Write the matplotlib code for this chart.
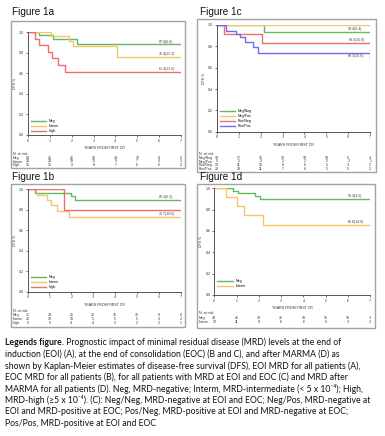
import matplotlib
matplotlib.use('Agg')
import matplotlib.pyplot as plt
from matplotlib.patches import Rectangle
from matplotlib.transforms import blended_transform_factory

plt.rcParams['font.family'] = ['Liberation Sans', 'DejaVu Sans']

W, H = 385, 436
fig = plt.figure(figsize=(W / 100, H / 100), dpi=100)
fig.patch.set_facecolor('white')

GREEN = '#63b863'
ORANGE = '#f8c56a'
RED = '#f26c6c'
BLUE = '#6c6cf0'

years = [0, 1, 2, 3, 4, 5, 6, 7]
yticks = [0.0, 0.2, 0.4, 0.6, 0.8, 1.0]

# ---------------- Figure 1a (EOI MRD) ----------------
a_names = ['Neg', 'Interm', 'High']
a_neg_t = [0, 0.52, 1.13, 2.23, 7]
a_neg_s = [1.0, 0.97, 0.93, 0.88, 0.88]
a_int_t = [0, 1.05, 1.89, 2.07, 4.06, 7]
a_int_s = [1.0, 0.96, 0.915, 0.86, 0.76, 0.76]
a_high_t = [0, 0.30, 0.52, 0.93, 1.08, 1.39, 1.69, 7]
a_high_s = [1.0, 0.93, 0.877, 0.81, 0.745, 0.68, 0.61, 0.61]
a_labels = ['87.8(6.6)', '76.4(11.3)', '61.4(12.6)']
a_risk_neg = [28, 26, 25, 16, 14, 12, 8, 5]
a_risk_int = [24, 24, 19, 13, 9, 7, 4, 3]
a_risk_high = [15, 13, 9, 8, 7, 6, 6, 2]

# ---------------- Figure 1b (EOC MRD) ----------------
b_names = ['Neg', 'Interm', 'High']
b_neg_t = [0, 0.35, 2.0, 2.17, 7]
b_neg_s = [1.0, 0.967, 0.93, 0.893, 0.893]
b_int_t = [0, 0.37, 0.45, 0.91, 1.06, 1.36, 1.87, 7]
b_int_s = [1.0, 0.974, 0.947, 0.895, 0.847, 0.788, 0.727, 0.727]
b_high_t = [0, 1.68, 7]
b_high_s = [1.0, 0.80, 0.80]
b_labels = ['89.3(6.5)', '72.7(10.6)', None]
b_risk_neg = [31, 29, 25, 20, 16, 15, 8, 6]
b_risk_int = [20, 19, 10, 5, 5, 5, 3, 2]
b_risk_high = [5, 5, 4, 4, 3, 2, 2, 1]

# ---------------- Figure 1c (EOI / EOC) ----------------
c_names = ['Neg/Neg', 'Neg/Pos', 'Pos/Neg', 'Pos/Pos']
c_nn_t = [0, 2.16, 7]
c_nn_s = [1.0, 0.935, 0.935]
c_np_t = [0, 7]
c_np_s = [1.0, 1.0]
c_pn_t = [0, 0.35, 2.08, 7]
c_pn_s = [1.0, 0.912, 0.83, 0.83]
c_pp_t = [0, 0.41, 0.88, 1.06, 1.29, 1.64, 1.90, 7]
c_pp_s = [1.0, 0.947, 0.92, 0.89, 0.84, 0.79, 0.74, 0.68]
c_labels = ['94.4(5.4)', None, '83.3(10.8)', '68.3(10.6)']
c_risk_nn = [18, 17, 15, 12, 10, 10, 6, 4]
c_risk_np = [5, 5, 3, 2, 2, 2, 2, 1]
c_risk_pn = [12, 11, 10, 8, 6, 5, 3, 2]
c_risk_pp = [20, 18, 11, 7, 6, 5, 5, 2]

# ---------------- Figure 1d (after MARMA) ----------------
d_names = ['Neg', 'Interm']
d_neg_t = [0, 0.82, 1.05, 1.83, 2.05, 7]
d_neg_s = [1.0, 0.978, 0.953, 0.93, 0.90, 0.90]
d_int_t = [0, 0.51, 1.0, 1.35, 2.17, 7]
d_int_s = [1.0, 0.917, 0.833, 0.75, 0.656, 0.656]
d_labels = ['90.4(4.5)', '65.6(14.0)']
d_risk_neg = [44, 41, 33, 26, 19, 15, 10, 3]
d_risk_int = [12, 11, 8, 6, 6, 5, 3, 3]

SMALL = 2.6

series_risk = {
    'Figure 1a': list(zip(a_names, [a_risk_neg, a_risk_int, a_risk_high])),
    'Figure 1b': list(zip(b_names, [b_risk_neg, b_risk_int, b_risk_high])),
    'Figure 1c': list(zip(c_names, [c_risk_nn, c_risk_np, c_risk_pn, c_risk_pp])),
    'Figure 1d': list(zip(d_names, [d_risk_neg, d_risk_int])),
}


def fx(x):
    return x / W


def fy(y):
    return 1 - y / H


def panel(title, title_xy, box, axpx, series, risk_y, risk_label_x, legend_y0):
    bx0, by0, bx1, by1 = box
    fig.add_artist(Rectangle((fx(bx0), fy(by1)), (bx1 - bx0) / W, (by1 - by0) / H,
                             transform=fig.transFigure, fill=False,
                             ec='#a3a3a3', lw=1.0))
    fig.text(fx(title_xy[0]), fy(title_xy[1]), title, fontsize=7.2,
             ha='left', va='center', color='#111111')
    x0, x1, yt, yb = axpx
    ax = fig.add_axes([fx(x0), fy(yb), (x1 - x0) / W, (yb - yt) / H])
    ax.set_facecolor('none')
    for name, t, s, col, lab in series:
        ax.step(t, s, where='post', color=col, lw=1.0, label=name)
        if lab:
            ax.text(6.0, s[-1] + 0.008, lab, fontsize=SMALL, color='#444444',
                    ha='left', va='bottom')
    ax.set_xlim(0, 7)
    ax.set_ylim(0, 1)
    ax.set_xticks(years)
    ax.set_xticklabels([str(v) for v in years])
    ax.set_yticks(yticks)
    ax.set_yticklabels(['%.1f' % v for v in yticks])
    ax.tick_params(labelsize=SMALL, length=1.5, width=0.5, pad=1.2,
                   colors='#333333')
    for sp in ['top', 'right']:
        ax.spines[sp].set_visible(False)
    for sp in ['left', 'bottom']:
        ax.spines[sp].set_color('#555555')
        ax.spines[sp].set_linewidth(0.7)
    h = yb - yt

    def ay(ypix):
        return (yb - ypix) / h

    tr = blended_transform_factory(ax.transData, ax.transAxes)
    ax.text(3.5, ay(yb + 13), 'YEARS FROM FIRST CR', fontsize=SMALL,
            ha='center', va='center', color='#333333', transform=tr)
    ax.text(fx(x0 - 13), 0.5, 'DFS %', rotation=90, fontsize=SMALL,
            ha='center', va='center', color='#333333',
            transform=blended_transform_factory(fig.transFigure, ax.transAxes))
    ax.legend(loc='lower left', bbox_to_anchor=(0.02, (yb - legend_y0) / h),
              fontsize=SMALL, frameon=False, handlelength=4.2,
              handletextpad=0.8, labelspacing=0.25, borderpad=0.0,
              borderaxespad=0.0)
    fig.text(fx(risk_label_x), fy(risk_y[0]), 'N. at risk', fontsize=SMALL,
             ha='left', va='center', color='#333333')
    for (name, counts), yy in zip(series_risk[title], risk_y[1:]):
        fig.text(fx(risk_label_x), fy(yy), name, fontsize=SMALL,
                 ha='left', va='center', color='#333333')
        for xv, c in zip(years, counts):
            ax.text(xv, ay(yy), str(c), fontsize=SMALL, ha='center',
                    va='center', transform=tr, color='#333333')
    return ax


panel('Figure 1a', (12, 12), (11, 21, 185, 168), (28, 181, 32, 135),
      [('Neg', a_neg_t, a_neg_s, GREEN, a_labels[0]),
       ('Interm', a_int_t, a_int_s, ORANGE, a_labels[1]),
       ('High', a_high_t, a_high_s, RED, a_labels[2])],
      [153.5, 157.8, 161.5, 165.2], 13, 133)

panel('Figure 1b', (12, 177), (11, 184, 185, 327), (27.5, 181, 189.3, 291.7),
      [('Neg', b_neg_t, b_neg_s, GREEN, b_labels[0]),
       ('Interm', b_int_t, b_int_s, ORANGE, b_labels[1]),
       ('High', b_high_t, b_high_s, RED, b_labels[2])],
      [310.7, 315, 319.2, 323.2], 13, 289)

panel('Figure 1c', (200, 12), (197, 19, 376, 172), (216.7, 370.3, 25, 131.7),
      [('Neg/Neg', c_nn_t, c_nn_s, GREEN, c_labels[0]),
       ('Neg/Pos', c_np_t, c_np_s, ORANGE, c_labels[1]),
       ('Pos/Neg', c_pn_t, c_pn_s, RED, c_labels[2]),
       ('Pos/Pos', c_pp_t, c_pp_s, BLUE, c_labels[3])],
      [153.8, 157.8, 161.5, 165.2, 168.8], 199, 128)

panel('Figure 1d', (200, 177), (197, 184, 375, 328), (214.3, 370.3, 188.3, 295),
      [('Neg', d_neg_t, d_neg_s, GREEN, d_labels[0]),
       ('Interm', d_int_t, d_int_s, ORANGE, d_labels[1])],
      [313.3, 317.7, 321.7], 199, 288)

# ---------------- caption ----------------
cap_lines = [
    ". Prognostic impact of minimal residual disease (MRD) levels at the end of",
    "induction (EOI) (A), at the end of consolidation (EOC) (B and C), and after MARMA (D) as",
    "shown by Kaplan-Meier estimates of disease-free survival (DFS), EOI MRD for all patients (A),",
    "EOC MRD for all patients (B), for all patients with MRD at EOI and EOC (C) and MRD after",
    "MARMA for all patients (D). Neg, MRD-negative; Interm, MRD-intermediate (< 5 x 10\u207b\u2074); High,",
    "MRD-high (\u22655 x 10\u207b\u2074). (C): Neg/Neg, MRD-negative at EOI and EOC; Neg/Pos, MRD-negative at",
    "EOI and MRD-positive at EOC; Pos/Neg, MRD-positive at EOI and MRD-negative at EOC;",
    "Pos/Pos, MRD-positive at EOI and EOC",
]
cap_y0 = 341.7
cap_dy = 11.52
CAPFONT = ['Lato', 'DejaVu Sans']
CAPSIZE = 6.25
t0 = fig.text(fx(5), fy(cap_y0), 'Legends figure', fontsize=CAPSIZE,
              fontweight='bold', family=CAPFONT, ha='left', va='center_baseline',
              color='#111111')
fig.canvas.draw()
bb = t0.get_window_extent()
fig.text(bb.x1 / W, fy(cap_y0), cap_lines[0], fontsize=CAPSIZE, family=CAPFONT,
         ha='left', va='center_baseline', color='#111111')
for i, line in enumerate(cap_lines[1:], start=1):
    fig.text(fx(5), fy(cap_y0 + i * cap_dy), line, fontsize=CAPSIZE,
             family=CAPFONT, ha='left', va='center_baseline', color='#111111')

fig.savefig('out.png', dpi=100)
